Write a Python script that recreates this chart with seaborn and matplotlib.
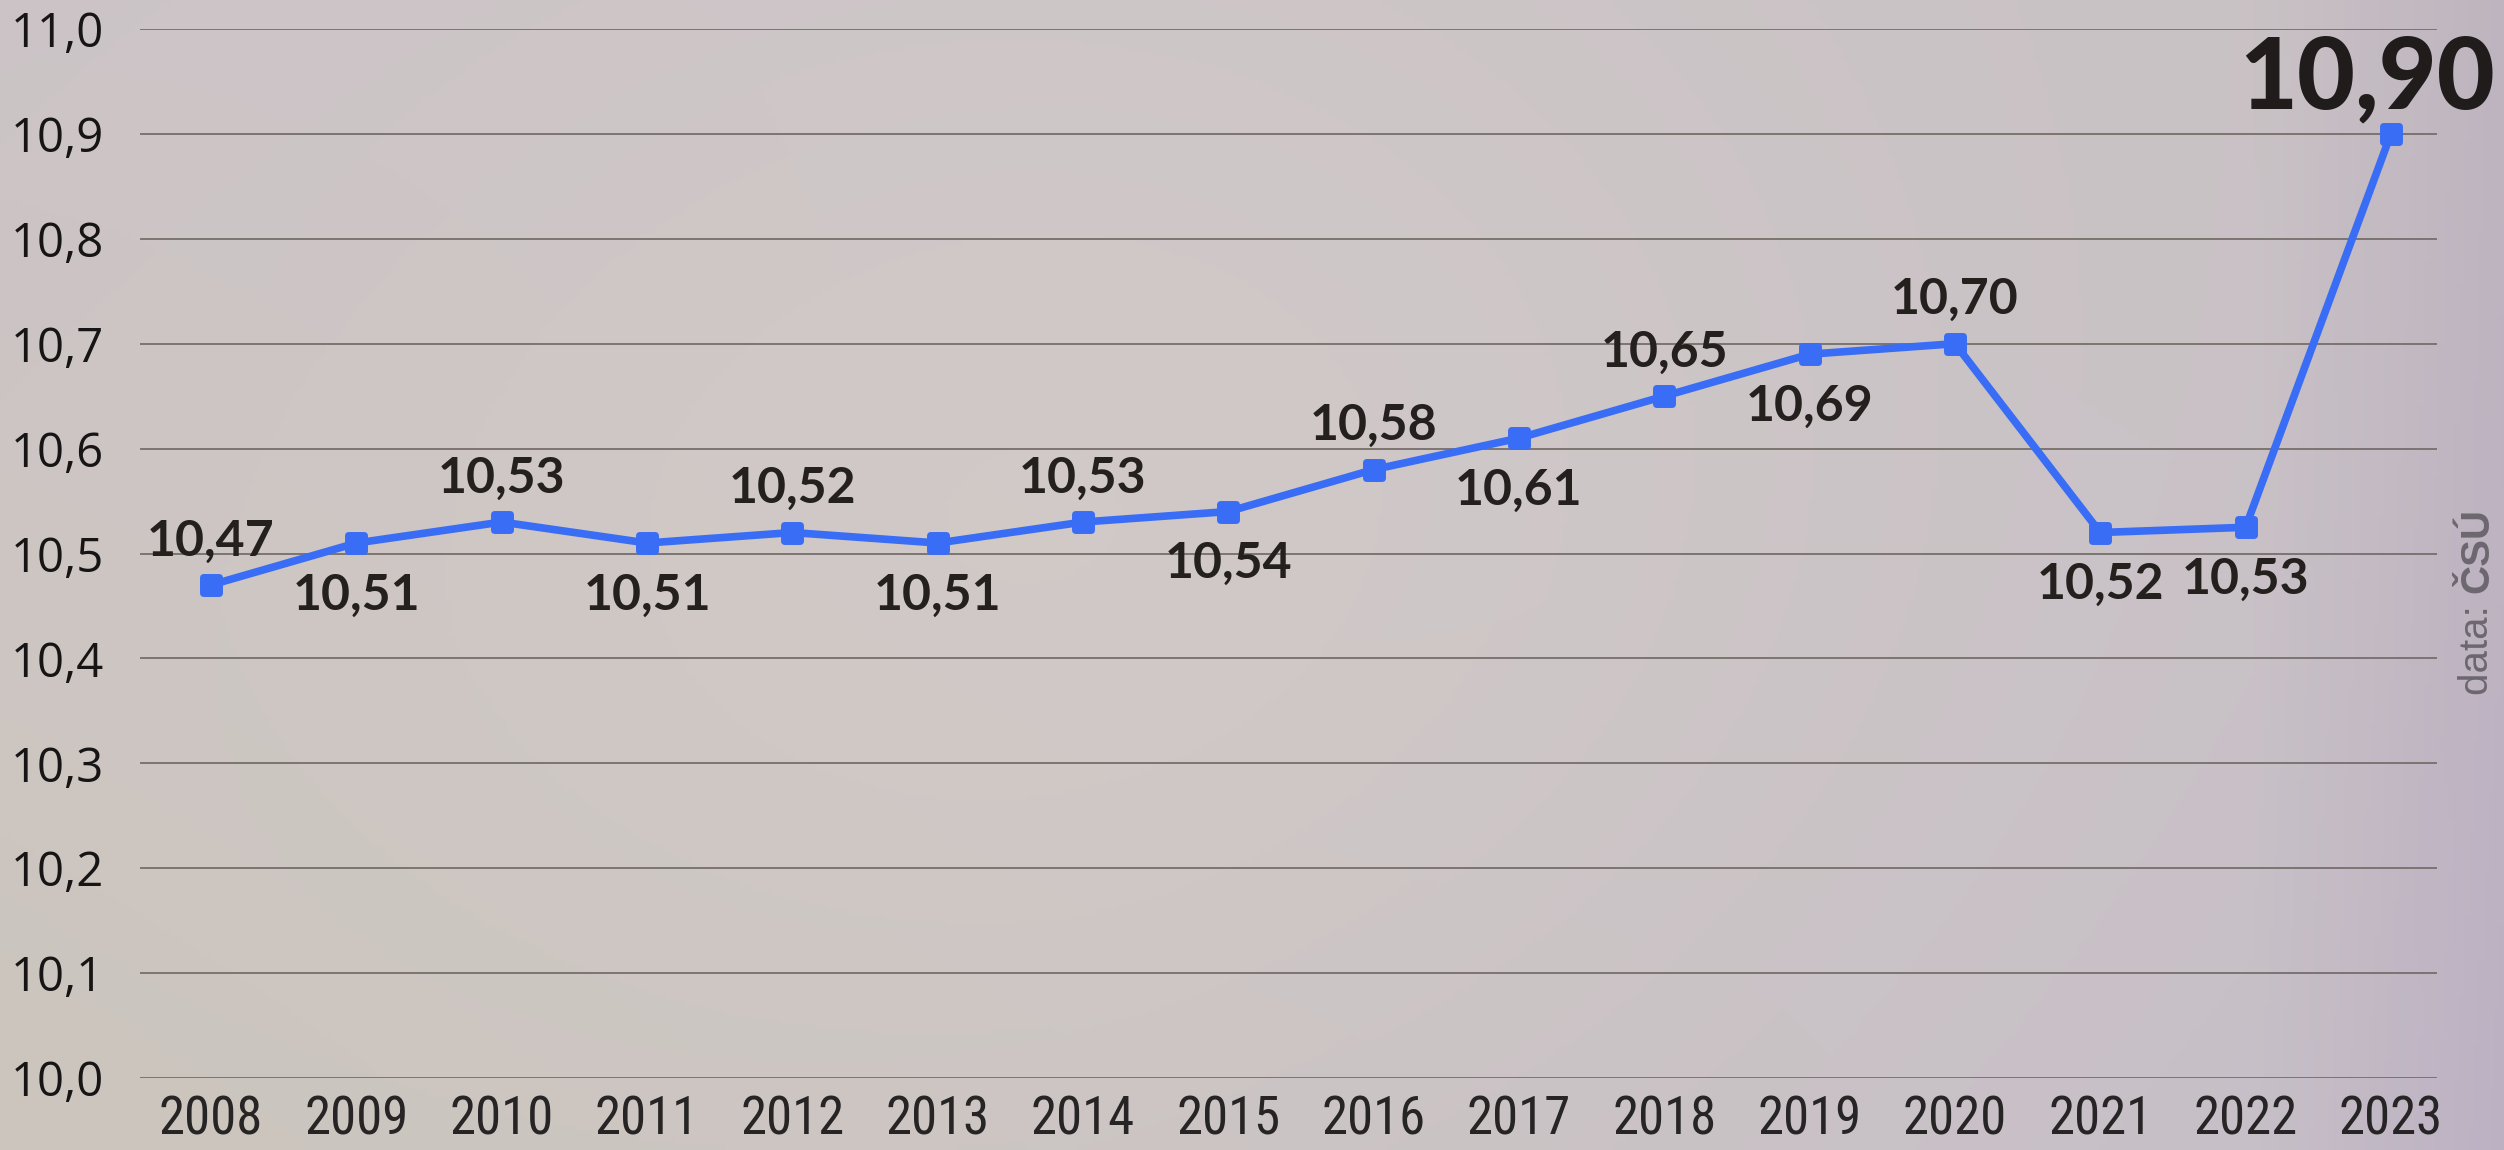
import numpy as np
import pandas as pd
import matplotlib
matplotlib.use("Agg")
import matplotlib.pyplot as plt
from matplotlib.markers import MarkerStyle
import seaborn as sns

# ---- data ----
years = [2008, 2009, 2010, 2011, 2012, 2013, 2014, 2015,
         2016, 2017, 2018, 2019, 2020, 2021, 2022, 2023]
values = [10.47, 10.51, 10.53, 10.51, 10.52, 10.51, 10.53, 10.54,
          10.58, 10.61, 10.65, 10.69, 10.70, 10.52, 10.525, 10.90]
value_labels = ["10,47", "10,51", "10,53", "10,51", "10,52", "10,51", "10,53", "10,54",
                "10,58", "10,61", "10,65", "10,69", "10,70", "10,52", "10,53", "10,90"]
y_ticks = [10.0, 10.1, 10.2, 10.3, 10.4, 10.5, 10.6, 10.7, 10.8, 10.9, 11.0]
source_light = "data: "
source_bold = "ČSÚ"

# label placement (above / below the point)
placement = ["a", "b", "a", "b", "a", "b", "a", "b",
             "a", "b", "a", "b", "a", "b", "b", "big"]

df = pd.DataFrame({"year": years, "value": values})

sns.set_style("white")
plt.rcParams["font.family"] = ["Lato", "DejaVu Sans"]

W, H = 2504, 1150
fig = plt.figure(figsize=(W / 100, H / 100), dpi=100)

# ---- soft background (photo replaced by a gentle gradient) ----
bg = fig.add_axes([0, 0, 1, 1], zorder=-10)
gy, gx = np.mgrid[0:1:230j, 0:1:500j]
TL = np.array([203, 195, 198]); TR = np.array([200, 193, 196])
BL = np.array([203, 197, 189]); BR = np.array([198, 190, 200])
img = (TL[None, None] * ((1 - gx) * (1 - gy))[..., None]
       + TR[None, None] * (gx * (1 - gy))[..., None]
       + BL[None, None] * ((1 - gx) * gy)[..., None]
       + BR[None, None] * (gx * gy)[..., None])
center = np.exp(-(((gx - 0.45) / 0.35) ** 2 + ((gy - 0.45) / 0.6) ** 2))
img = img + 7 * center[..., None] * np.array([1.0, 1.0, 0.5])
edge = np.clip((gx - 0.9) / 0.1, 0, 1)
img = img - 10 * edge[..., None] * np.array([1.0, 1.3, 0.5])
bg.imshow(np.clip(img, 0, 255).astype(np.uint8), aspect="auto", extent=[0, 1, 0, 1])
bg.set_axis_off()

# ---- main axes ----
left, right, top, bottom = 140, 2437, 29, 1078
ax = fig.add_axes([left / W, 1 - bottom / H, (right - left) / W, (bottom - top) / H])
ax.patch.set_alpha(0)

line_color = "#3a6df5"
sns.lineplot(data=df, x="year", y="value", ax=ax, color=line_color, linewidth=5.5,
             marker=MarkerStyle("s", joinstyle="round"), markersize=11,
             markeredgewidth=5, markeredgecolor=line_color, markerfacecolor=line_color,
             zorder=5)

ax.set_xlim(2008 - 0.489, 2023 + 0.317)
ax.set_ylim(10.0, 11.0)
ax.set_yticks(y_ticks)
ax.set_yticklabels([f"{t:.1f}".replace(".", ",") for t in y_ticks],
                   fontsize=34, color="#161414", family=["Open Sans", "DejaVu Sans"])
ax.set_xticks(years)
ax.set_xticklabels([str(y) for y in years], fontsize=38, color="#262424",
                   family=["Liberation Sans Narrow", "Roboto Condensed", "Liberation Sans", "DejaVu Sans"])
ax.tick_params(axis="y", length=0, pad=26)
ax.tick_params(axis="x", length=0, pad=12)
ax.set_xlabel("")
ax.set_ylabel("")
for s in ax.spines.values():
    s.set_visible(False)
ax.yaxis.grid(True, color="#7b7471", linewidth=1.4)
ax.xaxis.grid(False)
ax.set_axisbelow(True)

# ---- value labels ----
px = 0.72  # points per pixel at 100 dpi
for yr, v, lab, pl in zip(years, values, value_labels, placement):
    if pl == "big":
        ax.annotate(lab, (yr, v), xytext=(-24 * px, 54 * px), textcoords="offset points",
                    ha="center", va="center", fontsize=72, fontweight="black",
                    color="#1f1c1b", zorder=6)
    else:
        dy = 48 if pl == "a" else -48
        ax.annotate(lab, (yr, v), xytext=(0, dy * px), textcoords="offset points",
                    ha="center", va="center_baseline", fontsize=36, fontweight="bold",
                    color="#24201e", zorder=6)

# ---- source note ----
fig.text(2477 / W, 1 - 695 / H, source_light, rotation=90, rotation_mode="anchor",
         ha="left", va="center", fontsize=29, color="#6d6870",
         family=["Liberation Sans", "DejaVu Sans"])
fig.text(2477 / W, 1 - 508 / H, source_bold, rotation=90, rotation_mode="anchor",
         ha="right", va="center", fontsize=29, fontweight="bold", color="#6d6870",
         family=["Liberation Sans", "DejaVu Sans"])

fig.savefig("out.png", dpi=100)
